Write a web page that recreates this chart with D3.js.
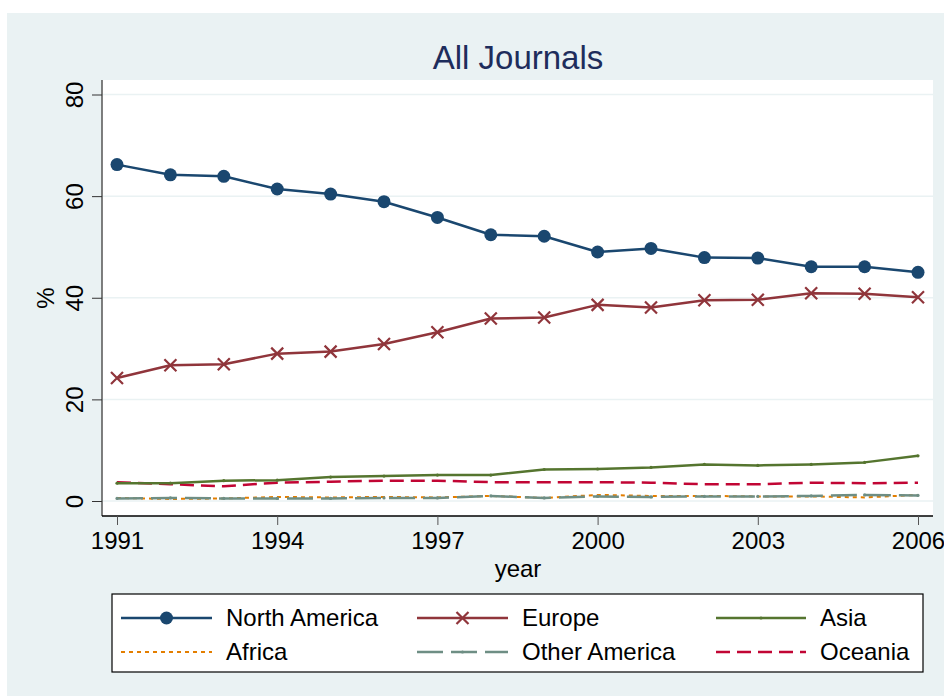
<!DOCTYPE html>
<html><head><meta charset="utf-8">
<script src="https://cdn.jsdelivr.net/npm/d3@7"></script>
<style>body{margin:0;background:#fff}svg{display:block}text{font-family:"Liberation Sans",Arial,sans-serif}</style>
</head><body>
<script>
const years = [1991,1992,1993,1994,1995,1996,1997,1998,1999,2000,2001,2002,2003,2004,2005,2006];
const northAmerica = [66.2,64.2,63.9,61.4,60.4,58.9,55.8,52.4,52.1,49.0,49.7,47.9,47.8,46.1,46.1,45.0];
const europe = [24.2,26.7,26.9,29.0,29.4,30.9,33.2,35.9,36.1,38.6,38.1,39.5,39.6,40.9,40.8,40.1];
const asia = [3.5,3.5,4.0,4.1,4.7,4.9,5.1,5.1,6.2,6.3,6.6,7.2,7.0,7.2,7.6,8.9];
const africa = [0.6,0.4,0.5,0.8,0.7,0.8,0.7,1.0,0.6,1.2,1.0,1.0,0.9,0.9,0.7,1.2];
const otherAmerica = [0.5,0.6,0.5,0.5,0.5,0.6,0.6,1.0,0.6,0.9,0.8,0.9,0.9,1.0,1.2,1.1];
const oceania = [3.7,3.3,2.9,3.6,3.8,4.0,4.0,3.7,3.7,3.7,3.6,3.3,3.3,3.6,3.5,3.6];
const yTicks = [0,20,40,60,80];
const xTicks = [1991,1994,1997,2000,2003,2006];
const seriesNames = ["North America","Europe","Asia","Africa","Other America","Oceania"];

const W=944,H=696;
const svg=d3.select("body").append("svg").attr("width",W).attr("height",H);
svg.append("rect").attr("x",7).attr("y",13).attr("width",W-7).attr("height",H-13).attr("fill","#eaf2f3");
const pl=102,pr=933,pt=80,pb=516;
svg.append("rect").attr("x",pl).attr("y",pt).attr("width",pr-pl).attr("height",pb-pt).attr("fill","#fff");
const x=d3.scaleLinear().domain([1991,2006]).range([117,918]);
const y=d3.scaleLinear().domain([0,80]).range([501,94.5]);

// grid
svg.append("g").selectAll("line").data(yTicks).join("line")
 .attr("x1",pl).attr("x2",pr).attr("y1",d=>y(d)).attr("y2",d=>y(d))
 .attr("stroke","#eaf2f3").attr("stroke-width",1.5);

// title
svg.append("text").attr("x",518).attr("y",69).attr("text-anchor","middle")
 .attr("font-size",33).attr("fill","#1e2d5c").text("All Journals");

// axes
const ya=svg.append("g").attr("transform",`translate(${pl},0)`)
 .call(d3.axisLeft(y).tickValues(yTicks).tickSize(10).tickPadding(0).tickFormat(d3.format("d")));
ya.select(".domain").attr("stroke","#555").attr("stroke-width",1.5).attr("d",`M0,${pt}V${pb}`);
ya.selectAll(".tick line").attr("stroke","#333");
ya.selectAll(".tick text").attr("font-size",24).attr("fill","#000").attr("text-anchor","middle")
 .attr("x",0).attr("dy",0).attr("transform","translate(-28,0) rotate(-90) translate(0,9)");

const xa=svg.append("g").attr("transform",`translate(0,${pb})`)
 .call(d3.axisBottom(x).tickValues(xTicks).tickSize(9).tickPadding(7).tickFormat(d3.format("d")));
xa.select(".domain").attr("stroke","#000").attr("stroke-width",1.5).attr("d",`M${pl},0H${pr}`);
xa.selectAll(".tick line").attr("stroke","#555");
xa.selectAll(".tick text").attr("font-size",24).attr("fill","#000");

svg.append("text").attr("x",518).attr("y",577).attr("text-anchor","middle").attr("font-size",24).text("year");
svg.append("text").attr("transform","translate(54,298) rotate(-90)").attr("text-anchor","middle").attr("font-size",24).text("%");

const styles=[
 {v:northAmerica,c:"#1a476f",w:2.5,dash:null,m:"circle"},
 {v:europe,c:"#90353b",w:2.5,dash:null,m:"x"},
 {v:asia,c:"#55752f",w:2.5,dash:null,m:"tick"},
 {v:africa,c:"#e37e00",w:2,dash:"4,4",m:null},
 {v:otherAmerica,c:"#6e8e84",w:2.5,dash:"26,8",m:"tick"},
 {v:oceania,c:"#c10534",w:2.5,dash:"14,7",m:null}
];
const line=d3.line().x((d,i)=>x(years[i])).y(d=>y(d));
const drawOrder=[3,4,5,2,1,0];
function marker(g,m,c,cx,cy){
 if(m==="circle") g.append("circle").attr("cx",cx).attr("cy",cy).attr("r",6.5).attr("fill",c);
 else if(m==="x"){const s=6;g.append("path").attr("d",`M${cx-s},${cy-s}L${cx+s},${cy+s}M${cx-s},${cy+s}L${cx+s},${cy-s}`).attr("stroke",c).attr("stroke-width",2.2);}
 else if(m==="tick"){g.append("circle").attr("cx",cx).attr("cy",cy).attr("r",1.6).attr("fill",c);}
}
drawOrder.forEach(k=>{
 const s=styles[k];
 const g=svg.append("g");
 g.append("path").datum(s.v).attr("d",line).attr("fill","none").attr("stroke",s.c)
  .attr("stroke-width",s.w).attr("stroke-dasharray",s.dash).attr("stroke-linejoin","round");
 if(s.m) s.v.forEach((d,i)=>marker(g,s.m,s.c,x(years[i]),y(d)));
});

// legend
const lg=svg.append("g");
lg.append("rect").attr("x",112).attr("y",594).attr("width",811).attr("height",78).attr("fill","#fff").attr("stroke","#000").attr("stroke-width",1.2);
const cols=[[121,212,226],[417,508,522],[716,806,820]];
const rows=[618,652];
seriesNames.forEach((n,k)=>{
 const s=styles[k];const c=cols[k%3];const ry=rows[Math.floor(k/3)];
 lg.append("line").attr("x1",c[0]).attr("x2",c[1]).attr("y1",ry).attr("y2",ry).attr("stroke",s.c)
  .attr("stroke-width",s.w).attr("stroke-dasharray",s.dash);
 if(s.m) marker(lg,s.m,s.c,(c[0]+c[1])/2,ry);
 lg.append("text").attr("x",c[2]).attr("y",ry).attr("dy","0.35em").attr("font-size",24).text(n);
});
</script>
</body></html>
